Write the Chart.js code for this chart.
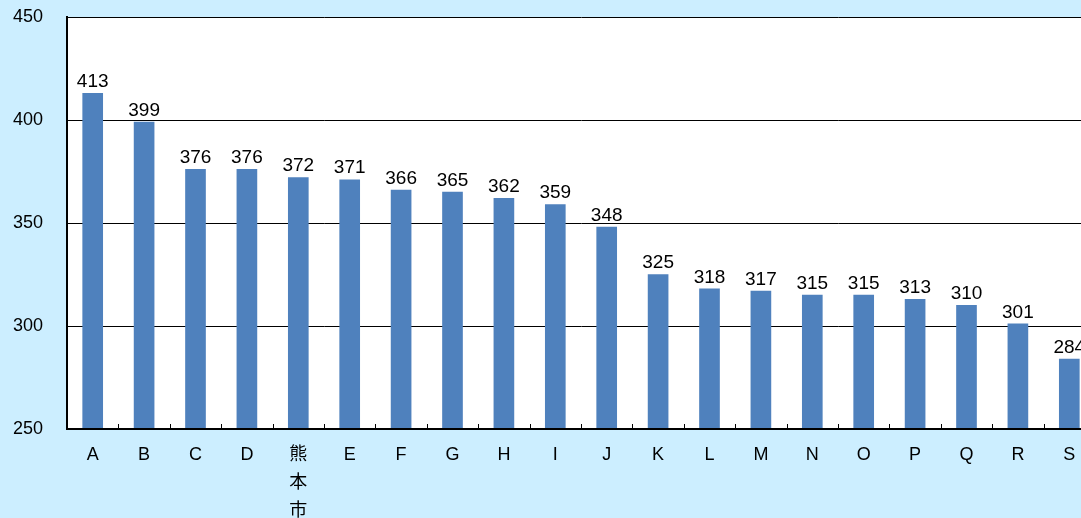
<!DOCTYPE html>
<html><head><meta charset="utf-8">
<script src="https://cdn.jsdelivr.net/npm/chart.js@4"></script>
<style>
html,body{margin:0;padding:0;overflow:hidden;background:#CCEEFF;}
#wrap{width:1100px;height:518px;}
</style></head>
<body><div id="wrap"><canvas id="c" width="1100" height="518"></canvas></div>
<script>
const categories = ['A','B','C','D',['熊','本','市'],'E','F','G','H','I','J','K','L','M','N','O','P','Q','R','S'];
const values = [413,399,376,376,372,371,366,365,362,359,348,325,318,317,315,315,313,310,301,284];
const yTicks = [250,300,350,400,450];

const FONT = '"Liberation Sans","Noto Sans CJK JP",sans-serif';

const bgPlugin = {
  id:'bg',
  beforeDraw(chart){
    const {ctx, chartArea:a} = chart;
    ctx.save();
    ctx.fillStyle='#CCEEFF';
    ctx.fillRect(0,0,chart.width,chart.height);
    ctx.fillStyle='#FFFFFF';
    ctx.fillRect(a.left,a.top,a.right-a.left,a.bottom-a.top);
    ctx.restore();
  },
  afterDatasetsDraw(chart){
    const {ctx, chartArea:a} = chart;
    const xs = chart.scales.x;
    ctx.save();
    ctx.strokeStyle='#000';
    ctx.lineWidth=1;
    for(let i=0;i<=categories.length;i++){
      const x = Math.round(xs.getPixelForValue(i) - (xs.getPixelForValue(1)-xs.getPixelForValue(0))/2)+0.5;
      ctx.beginPath();ctx.moveTo(x,a.bottom);ctx.lineTo(x,a.bottom-5);ctx.stroke();
    }
    ctx.lineWidth=2;
    ctx.beginPath();
    ctx.moveTo(a.left,a.top);ctx.lineTo(a.left,a.bottom);ctx.lineTo(a.right,a.bottom);
    ctx.stroke();
    const meta = chart.getDatasetMeta(0);
    ctx.fillStyle='#000';
    ctx.font='19px '+FONT;
    ctx.textAlign='center';
    ctx.textBaseline='bottom';
    meta.data.forEach((bar,i)=>{
      ctx.fillText(String(values[i]), bar.x, bar.y-2);
    });
    ctx.restore();
  }
};

function zeroPad(s){s.paddingTop=0;s.paddingBottom=0;s.paddingLeft=0;s.paddingRight=0;}

new Chart(document.getElementById('c'),{
  type:'bar',
  data:{labels:categories,datasets:[{data:values,backgroundColor:'#4F81BD',borderWidth:0,barThickness:20}]},
  options:{
    responsive:false,animation:false,
    layout:{padding:{top:17,right:5,left:0,bottom:0}},
    plugins:{legend:{display:false},tooltip:{enabled:false}},
    scales:{
      y:{
        min:250,max:450,
        afterFit(s){s.width=67;zeroPad(s);},
        afterBuildTicks(s){s.ticks=yTicks.map(v=>({value:v}));},
        ticks:{color:'#000',font:{size:18,family:FONT},padding:24},
        grid:{color:'#000',lineWidth:1,drawTicks:false},
        border:{display:true,color:'#000',width:2}
      },
      x:{
        afterFit(s){s.height=89;zeroPad(s);},
        ticks:{color:'#000',font:{size:18,family:FONT,lineHeight:1.55},padding:12,maxRotation:0,autoSkip:false},
        grid:{display:false,drawTicks:false},
        border:{display:true,color:'#000',width:2}
      }
    }
  },
  plugins:[bgPlugin]
});
</script></body></html>
